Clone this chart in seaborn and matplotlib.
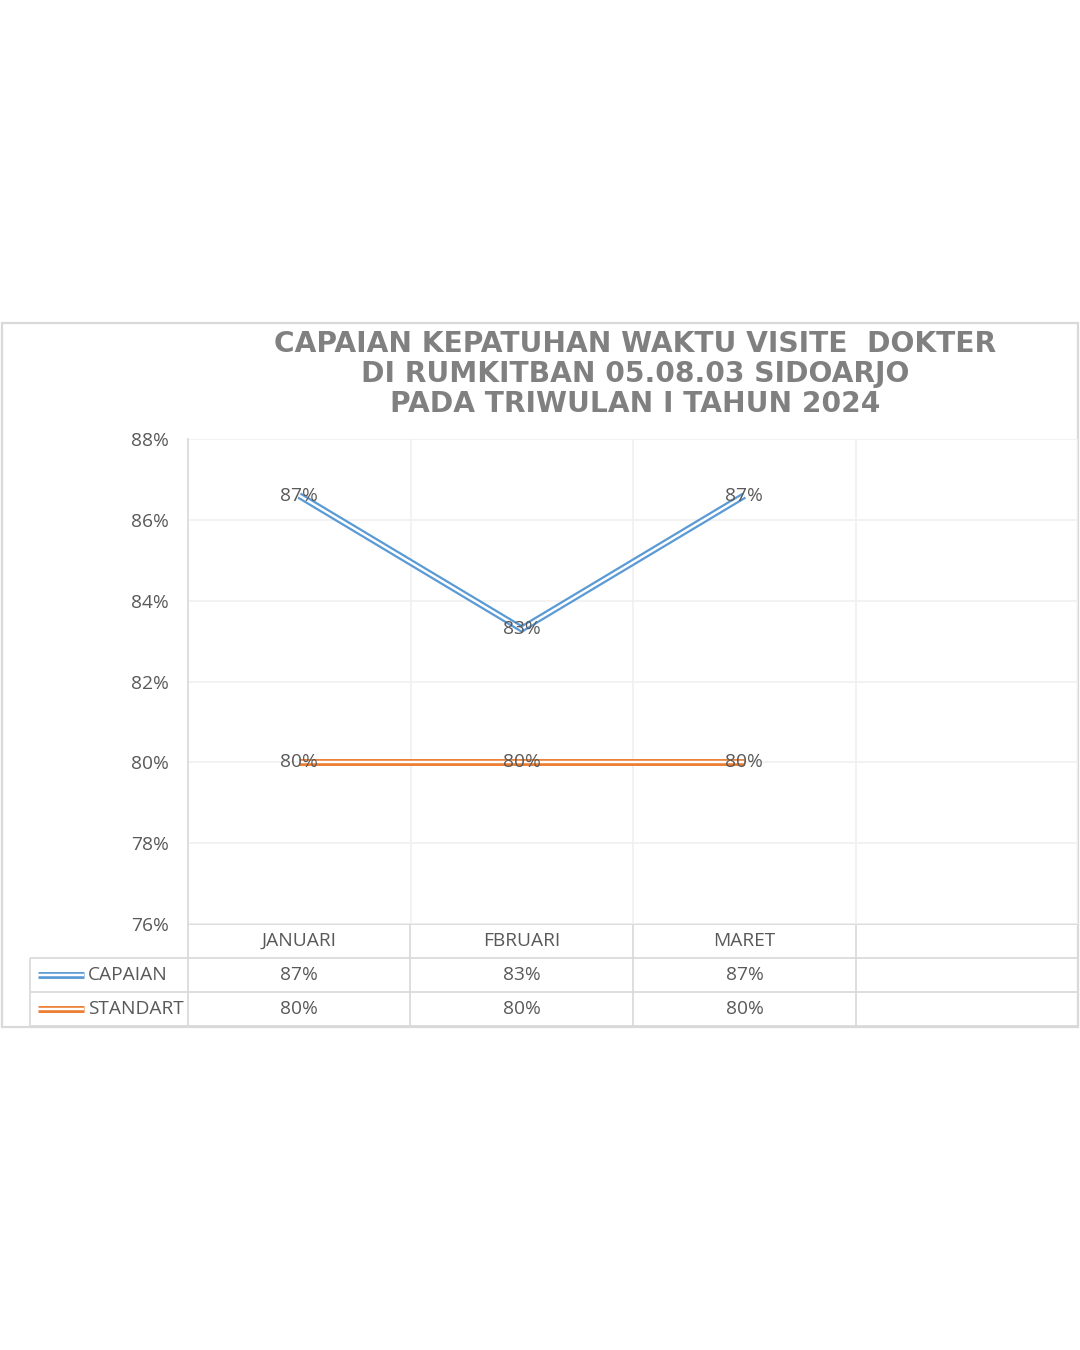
import numpy as np
import pandas as pd
import matplotlib
matplotlib.use("Agg")
import matplotlib.pyplot as plt
from matplotlib.lines import Line2D
import seaborn as sns

""" DATA """
months = ["JANUARI", "FBRUARI", "MARET"]
capaian = [0.866, 0.833, 0.866]
standart = [0.80, 0.80, 0.80]
series_names = ["CAPAIAN", "STANDART"]
yticks = [0.76, 0.78, 0.80, 0.82, 0.84, 0.86, 0.88]
title = "CAPAIAN KEPATUHAN WAKTU VISITE  DOKTER\nDI RUMKITBAN 05.08.03 SIDOARJO\nPADA TRIWULAN I TAHUN 2024"

BLUE = "#5B9BD5"
ORANGE = "#ED7D31"
TXT = "#595959"
GRID = "#F0F0F0"
BORDER = "#D9D9D9"

sns.set_theme(style="white")
plt.rcParams['font.family'] = ['Open Sans', 'DejaVu Sans']

W, H = 1080, 1350
fig = plt.figure(figsize=(8, 10), dpi=135)

# overlay in pixel coords for frame / table / title
frame = fig.add_axes([0, 0, 1, 1], zorder=0)
frame.set_xlim(0, W)
frame.set_ylim(H, 0)
frame.axis('off')

# chart border
frame.add_patch(plt.Rectangle((2, 323), 1076, 704, fill=False, edgecolor=BORDER, lw=1.2))

frame.text(635, 374, title, ha='center', va='center', color='#808080',
		   fontsize=15, fontweight='bold', family='DejaVu Sans', linespacing=1.07)

# main plot area
L, R, T, B = 188, 1078, 439, 924
ax = fig.add_axes([L / W, 1 - B / H, (R - L) / W, (B - T) / H], zorder=2)
ax.patch.set_alpha(0)

df = pd.DataFrame({'x': range(len(months)), 'month': months,
				   'CAPAIAN': capaian, 'STANDART': standart})

# double line look: wide coloured stroke with a thin white stroke on top
for name, col in zip(series_names, [BLUE, ORANGE]):
	sns.lineplot(data=df, x='x', y=name, ax=ax, color=col, linewidth=3.7,
				 solid_capstyle='butt', solid_joinstyle='miter')
	sns.lineplot(data=df, x='x', y=name, ax=ax, color='white', linewidth=1.3,
				 solid_capstyle='butt', solid_joinstyle='miter')
	for xi, v in zip(df['x'], df[name]):
		ax.text(xi, v, f"{v*100:.0f}%", ha='center', va='center', color=TXT, fontsize=10.2)

ax.set_xlim(-0.5, 3.5)
ax.set_ylim(0.76, 0.88)
ax.set_yticks(yticks)
ax.set_yticklabels([f"{t*100:.0f}%" for t in yticks], color=TXT, fontsize=10.2)
ax.set_xticks([])
ax.set_xticks([0.5, 1.5, 2.5, 3.5], minor=True)
ax.tick_params(axis='y', length=0, pad=10)
ax.tick_params(axis='x', which='minor', length=0)
ax.grid(axis='y', color=GRID, lw=0.9)
ax.grid(axis='x', which='minor', color=GRID, lw=0.9)
ax.set_xlabel('')
ax.set_ylabel('')
for s in ['top', 'right', 'bottom']:
	ax.spines[s].set_visible(False)
ax.spines['left'].set_color(BORDER)
ax.spines['left'].set_linewidth(0.9)

# data table under the plot
colx = [188, 410, 633, 856, 1078]
rowy = [924, 958, 992, 1026]
frame.hlines(rowy[0], colx[0], colx[-1], color=BORDER, lw=0.9)
frame.hlines(rowy[1:], 30, colx[-1], color=BORDER, lw=0.9)
frame.vlines(30, rowy[1], rowy[-1], color=BORDER, lw=0.9)
frame.vlines(colx, rowy[0], rowy[-1], color=BORDER, lw=0.9)

for i, m in enumerate(months):
	cx = (colx[i] + colx[i + 1]) / 2
	frame.text(cx, (rowy[0] + rowy[1]) / 2, m, ha='center', va='center', color=TXT, fontsize=10.2)
	frame.text(cx, (rowy[1] + rowy[2]) / 2, f"{capaian[i]*100:.0f}%", ha='center', va='center', color=TXT, fontsize=10.2)
	frame.text(cx, (rowy[2] + rowy[3]) / 2, f"{standart[i]*100:.0f}%", ha='center', va='center', color=TXT, fontsize=10.2)

for r, (name, col) in enumerate(zip(series_names, [BLUE, ORANGE])):
	yc = (rowy[r + 1] + rowy[r + 2]) / 2
	frame.add_line(Line2D([38, 84], [yc, yc], color=col, lw=3.7, solid_capstyle='butt'))
	frame.add_line(Line2D([38, 84], [yc, yc], color='white', lw=1.3, solid_capstyle='butt'))
	frame.text(88, yc, name, ha='left', va='center', color=TXT, fontsize=10.2)

plt.savefig('out.png', dpi=135, facecolor='white')
plt.close()
